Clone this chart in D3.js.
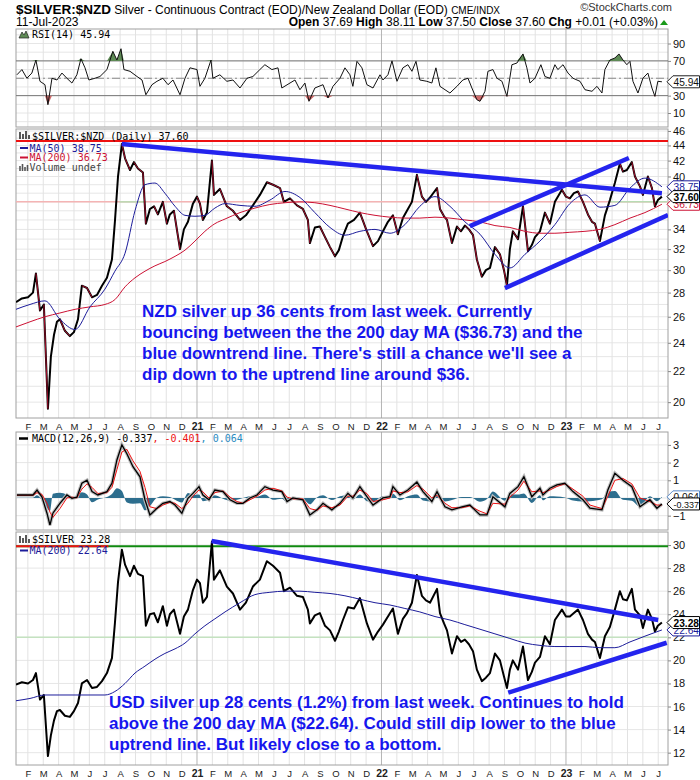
<!DOCTYPE html>
<html>
<head>
<meta charset="utf-8">
<script src="https://cdn.jsdelivr.net/npm/d3@7"></script>
<style>
  body { margin: 0; background: #fff; }
  text { font-family: "Liberation Sans", Arial, sans-serif; }
  .mono { font-family: "DejaVu Sans Mono", monospace; font-size: 10px; }
</style>
</head>
<body>
<svg id="chart" width="700" height="780"></svg>
<script>
// ---- data (dates as decimal years) ----
const priceDates = [
  2020.019, 2020.051, 2020.084, 2020.111, 2020.127, 2020.149, 2020.170, 2020.192, 2020.208, 2020.225,
  2020.241, 2020.257, 2020.284, 2020.311, 2020.333, 2020.355, 2020.376, 2020.404, 2020.431, 2020.458,
  2020.485, 2020.512, 2020.539, 2020.555, 2020.572, 2020.593, 2020.610, 2020.637, 2020.658, 2020.680,
  2020.707, 2020.723, 2020.745, 2020.767, 2020.788, 2020.815, 2020.837, 2020.853, 2020.875, 2020.908,
  2020.929, 2020.951, 2020.978, 2021.000, 2021.016, 2021.032, 2021.054, 2021.081, 2021.092, 2021.124,
  2021.162, 2021.195, 2021.233, 2021.265, 2021.303, 2021.341, 2021.379, 2021.412, 2021.450, 2021.471,
  2021.504, 2021.542, 2021.574, 2021.601, 2021.612, 2021.639, 2021.666, 2021.694, 2021.721, 2021.748,
  2021.769, 2021.791, 2021.818, 2021.851, 2021.883, 2021.921, 2021.954, 2021.981, 2022.008, 2022.035,
  2022.062, 2022.089, 2022.116, 2022.138, 2022.165, 2022.192, 2022.219, 2022.241, 2022.263, 2022.301,
  2022.317, 2022.339, 2022.355, 2022.382, 2022.409, 2022.431, 2022.452, 2022.474, 2022.496, 2022.517,
  2022.544, 2022.566, 2022.588, 2022.615, 2022.642, 2022.664, 2022.680, 2022.696, 2022.712, 2022.740,
  2022.767, 2022.794, 2022.815, 2022.832, 2022.859, 2022.886, 2022.913, 2022.940, 2022.978, 2023.000,
  2023.021, 2023.043, 2023.065, 2023.092, 2023.119, 2023.141, 2023.157, 2023.184, 2023.211, 2023.238,
  2023.265, 2023.292, 2023.309, 2023.330, 2023.357, 2023.374, 2023.401, 2023.417, 2023.444, 2023.466,
  2023.482, 2023.498, 2023.520
];
const nzdClose = [
  27.2, 27.5, 27.6, 28.0, 29.7, 26.5, 27.0, 19.6, 23.0, 24.6,
  25.6, 25.8, 24.9, 24.5, 24.8, 25.8, 28.6, 28.4, 27.6, 27.8,
  28.6, 29.3, 31.0, 34.8, 40.0, 44.2, 42.3, 40.8, 41.8, 41.0,
  40.5, 34.6, 36.2, 36.5, 35.6, 37.0, 34.6, 35.6, 36.0, 32.0,
  34.0, 34.8, 36.8, 37.6, 36.8, 35.0, 35.8, 42.0, 37.8, 38.5,
  36.5, 36.0, 35.0, 35.5, 36.6, 37.8, 39.3, 39.0, 38.6, 37.0,
  37.4, 36.6, 36.2, 35.0, 32.6, 34.2, 34.3, 33.2, 32.2, 31.3,
  31.9, 33.3, 34.6, 35.0, 35.8, 33.8, 32.3, 32.8, 33.8, 34.8,
  35.5, 33.5, 35.2, 36.0, 37.0, 40.2, 37.6, 37.0, 37.5, 38.6,
  36.2, 35.4, 35.0, 32.6, 34.3, 33.8, 34.4, 34.0, 33.4, 31.0,
  29.4, 30.0, 30.2, 32.2, 31.5, 30.0, 28.6, 32.0, 33.8, 33.0,
  36.5, 31.8, 32.4, 33.2, 33.8, 35.8, 34.6, 37.0, 38.4, 37.6,
  37.4, 38.0, 38.2, 37.0, 35.6, 34.8, 34.6, 32.8, 35.5, 37.2,
  39.2, 41.6, 40.6, 40.8, 41.8, 40.0, 38.8, 37.8, 40.0, 38.6,
  36.5, 37.2, 37.60
];
const usdClose = [
  17.9, 18.1, 18.0, 18.3, 18.9, 16.6, 17.0, 11.7, 13.5, 14.8,
  15.6, 15.7, 15.2, 15.1, 15.6, 16.3, 18.0, 18.3, 17.6, 17.7,
  18.2, 18.9, 20.2, 23.2, 26.8, 29.6, 28.3, 27.3, 28.2, 27.5,
  27.3, 23.0, 24.0, 24.1, 23.3, 24.7, 23.0, 24.0, 24.4, 22.3,
  23.8, 24.4, 26.1, 27.0, 26.7, 25.0, 25.5, 30.3, 27.0, 27.8,
  26.4, 25.8, 24.4, 25.0, 26.4, 27.0, 28.6, 28.2, 27.6, 26.0,
  26.3, 25.6, 25.5, 24.4, 23.2, 23.9, 24.1, 23.0, 22.6, 21.7,
  22.5, 23.5, 24.6, 24.5, 25.4, 23.2, 21.8, 22.5, 23.1, 23.8,
  24.5, 22.3, 23.6, 24.1, 25.0, 27.4, 25.6, 25.2, 25.0, 26.2,
  24.1, 23.2, 22.6, 20.6, 22.1, 21.6, 21.8, 21.4, 20.8, 19.2,
  18.2, 18.5, 18.9, 20.6, 20.0, 18.6, 17.6, 19.2, 20.0, 19.2,
  21.2, 18.3, 19.0, 19.8, 20.3, 22.1, 21.4, 23.5, 24.4, 23.8,
  23.8, 24.1, 24.4, 23.5, 22.3, 21.8, 21.6, 20.2, 22.1, 22.9,
  24.4, 26.0, 25.3, 25.2, 26.2, 24.4, 23.9, 22.8, 24.4, 23.6,
  22.5, 23.0, 23.28
];

const maDates = [
  2020.019, 2020.095, 2020.176, 2020.257, 2020.339, 2020.420, 2020.501, 2020.555, 2020.610, 2020.664,
  2020.718, 2020.772, 2020.826, 2020.881, 2020.935, 2020.989, 2021.043, 2021.097, 2021.152, 2021.233,
  2021.314, 2021.395, 2021.477, 2021.558, 2021.639, 2021.721, 2021.802, 2021.883, 2021.965, 2022.046,
  2022.127, 2022.208, 2022.290, 2022.371, 2022.452, 2022.534, 2022.615, 2022.696, 2022.778, 2022.859,
  2022.940, 2023.021, 2023.103, 2023.184, 2023.265, 2023.347, 2023.428, 2023.520
];
const nzdMA50 = [
  26.6, 27.0, 27.3, 25.8, 25.0, 26.8, 28.3, 29.9, 31.6, 36.0,
  39.0, 39.2, 38.0, 36.5, 35.5, 35.4, 35.5, 36.3, 36.8, 36.6,
  36.5, 37.2, 38.2, 37.5, 35.8, 34.2, 33.4, 33.8, 34.0, 33.6,
  34.5, 36.5, 37.6, 36.5, 34.8, 33.5, 31.5, 30.2, 31.5, 32.8,
  34.5, 36.8, 37.8, 36.4, 36.6, 38.6, 39.8, 38.75
];
const nzdMA200 = [
  25.2, 25.6, 26.0, 26.3, 26.6, 26.8, 27.0, 27.4, 28.5, 29.3,
  29.9, 30.4, 30.8, 31.3, 31.9, 32.8, 33.8, 34.6, 35.1, 35.8,
  36.3, 36.7, 36.9, 37.0, 36.9, 36.6, 36.2, 35.8, 35.5, 35.3,
  35.2, 35.2, 35.3, 35.2, 35.0, 34.8, 34.4, 34.2, 33.8, 33.6,
  33.6, 33.7, 33.8, 34.0, 34.5, 35.2, 35.8, 36.73
];
const usdMA200 = [
  16.5, 16.7, 17.0, 17.0, 17.0, 17.0, 17.0, 17.3, 18.0, 18.9,
  19.5, 20.1, 20.6, 21.0, 21.5, 22.3, 23.0, 23.6, 24.2, 25.0,
  25.7, 25.9, 26.0, 26.0, 25.9, 25.8, 25.6, 25.3, 25.0, 24.8,
  24.5, 24.2, 23.8, 23.5, 23.1, 22.7, 22.3, 21.9, 21.5, 21.3,
  21.2, 21.2, 21.2, 21.1, 21.1, 21.6, 22.1, 22.64
];

const rsiDates = [
  2020.024, 2020.051, 2020.078, 2020.105, 2020.127, 2020.149, 2020.176, 2020.192, 2020.214, 2020.241,
  2020.268, 2020.295, 2020.322, 2020.349, 2020.371, 2020.393, 2020.414, 2020.447, 2020.474, 2020.512,
  2020.544, 2020.566, 2020.588, 2020.604, 2020.637, 2020.675, 2020.702, 2020.723, 2020.756, 2020.783,
  2020.815, 2020.843, 2020.870, 2020.908, 2020.935, 2020.962, 2021.000, 2021.016, 2021.043, 2021.076,
  2021.086, 2021.124, 2021.162, 2021.195, 2021.233, 2021.271, 2021.303, 2021.341, 2021.368, 2021.406,
  2021.439, 2021.460, 2021.504, 2021.531, 2021.558, 2021.585, 2021.607, 2021.639, 2021.683, 2021.710,
  2021.737, 2021.775, 2021.802, 2021.829, 2021.845, 2021.867, 2021.894, 2021.921, 2021.954, 2021.992,
  2022.008, 2022.035, 2022.057, 2022.084, 2022.116, 2022.143, 2022.165, 2022.187, 2022.208, 2022.246,
  2022.273, 2022.295, 2022.317, 2022.371, 2022.409, 2022.441, 2022.469, 2022.490, 2022.517, 2022.534,
  2022.561, 2022.577, 2022.604, 2022.626, 2022.653, 2022.680, 2022.707, 2022.734, 2022.767, 2022.788,
  2022.805, 2022.832, 2022.864, 2022.886, 2022.913, 2022.940, 2022.956, 2022.984, 2023.011, 2023.038,
  2023.076, 2023.103, 2023.141, 2023.168, 2023.195, 2023.211, 2023.238, 2023.265, 2023.287, 2023.309,
  2023.330, 2023.347, 2023.363, 2023.390, 2023.417, 2023.444, 2023.466, 2023.482, 2023.498, 2023.520
];
const rsi14 = [
  54, 60, 50, 56, 71, 46.5, 42.6, 19.6, 50, 48,
  56, 50, 44.5, 54, 72.5, 62, 48, 50, 52, 60,
  81, 71, 84, 60, 58, 52, 48, 31, 42.6, 46.5,
  50, 42.6, 48, 31, 50, 62, 60, 40.7, 50, 71,
  50, 54, 46.5, 48, 38.8, 50, 52, 60, 65.6, 60,
  62, 38.8, 44.5, 48, 36.8, 44.5, 23.5, 38.8, 42.6, 27.3,
  40.7, 50, 62, 54, 40.7, 69.5, 62, 42.6, 38.8, 54,
  48, 54, 70, 46.5, 62, 65.6, 58, 69.5, 48, 46.5,
  44.5, 62, 40.7, 33, 40.7, 48, 50, 38.8, 25.3, 23.5,
  35, 58, 60, 50, 46.5, 29.2, 65.6, 67.5, 78, 62,
  44.5, 50, 65.6, 52, 50, 65.6, 60, 65.6, 56, 50,
  46.5, 36.8, 35, 40.7, 33, 60, 71, 73.3, 78, 71,
  65.6, 69.5, 46.5, 33, 50, 56, 38.8, 29.2, 46.5, 45.94
];

const macdDates = [
  2020.024, 2020.111, 2020.133, 2020.160, 2020.187, 2020.203, 2020.219, 2020.257, 2020.295, 2020.322,
  2020.349, 2020.376, 2020.404, 2020.431, 2020.463, 2020.512, 2020.539, 2020.566, 2020.593, 2020.620,
  2020.653, 2020.691, 2020.718, 2020.745, 2020.783, 2020.815, 2020.853, 2020.881, 2020.918, 2020.951,
  2020.978, 2021.011, 2021.032, 2021.065, 2021.097, 2021.141, 2021.179, 2021.217, 2021.249, 2021.287,
  2021.325, 2021.368, 2021.412, 2021.460, 2021.488, 2021.520, 2021.574, 2021.612, 2021.650, 2021.683,
  2021.731, 2021.775, 2021.818, 2021.845, 2021.883, 2021.921, 2021.954, 2022.008, 2022.046, 2022.062,
  2022.100, 2022.143, 2022.192, 2022.225, 2022.273, 2022.301, 2022.344, 2022.382, 2022.436, 2022.479,
  2022.534, 2022.572, 2022.604, 2022.669, 2022.696, 2022.740, 2022.772, 2022.815, 2022.859, 2022.875,
  2022.913, 2022.951, 2022.994, 2023.038, 2023.092, 2023.130, 2023.195, 2023.227, 2023.265, 2023.309,
  2023.357, 2023.401, 2023.455, 2023.493, 2023.520
];
const macdLine = [
  0.17, 0.17, 0.45, 0.05, -0.86, -1.53, -0.86, -0.3, 0.17, -0.02,
  0.05, 0.83, 1.0, 0.36, 0.17, 0.36, 0.83, 2.15, 3.0, 2.5,
  1.77, 1.2, -0.1, -0.96, -0.58, -0.3, -0.2, -0.4, -0.86, -0.02,
  0.26, 0.64, 0.17, -0.1, 0.45, 0.36, -0.1, -0.3, -0.3, 0,
  0.17, 0.64, 0.45, 0.36, -0.2, 0, -0.1, -0.96, -0.67, -0.3,
  -0.67, -0.3, 0.26, 0, 0.64, 0.07, -0.4, 0, 0.07, 0.64,
  0.17, 0.45, 0.9, 0.36, -0.2, 0.36, -0.5, -0.67, -0.5, -0.4,
  -0.96, -0.96, 0.07, -0.5, 0.26, 0.64, 1.2, 0.07, 0.55, 0.17,
  0.55, 0.74, 0.83, 0.36, -0.1, -0.58, -0.67, 0.45, 1.4, 1.0,
  0.64, -0.5, -0.1, -0.58, -0.337
];
const macdSignal = [
  0.15, 0.15, 0.3, 0.2, -0.3, -0.8, -1.1, -0.6, 0.0, 0.05,
  0.0, 0.5, 0.8, 0.6, 0.25, 0.3, 0.6, 1.6, 2.6, 2.75,
  2.1, 1.5, 0.6, -0.5, -0.6, -0.4, -0.25, -0.3, -0.6, -0.3,
  0.1, 0.45, 0.35, 0.0, 0.3, 0.4, 0.05, -0.2, -0.3, -0.1,
  0.1, 0.45, 0.55, 0.4, 0.05, -0.05, -0.05, -0.6, -0.7, -0.45,
  -0.55, -0.4, 0.1, 0.1, 0.45, 0.25, -0.2, -0.1, 0.0, 0.4,
  0.3, 0.35, 0.7, 0.5, 0.0, 0.15, -0.3, -0.55, -0.55, -0.45,
  -0.75, -0.9, -0.3, -0.35, 0.05, 0.45, 0.95, 0.35, 0.4, 0.3,
  0.45, 0.65, 0.8, 0.5, 0.1, -0.4, -0.6, 0.1, 1.0, 1.1,
  0.8, 0.0, -0.2, -0.4, -0.401
];
const macdHist = [
  0.02, 0.02, 0.15, -0.15, -0.56, -0.73, 0.24, 0.3, 0.17, -0.07,
  0.05, 0.33, 0.2, -0.24, -0.08, 0.06, 0.23, 0.55, 0.4, -0.25,
  -0.33, -0.3, -0.7, -0.46, 0.02, 0.1, 0.05, -0.1, -0.26, 0.28,
  0.16, 0.19, -0.18, -0.1, 0.15, -0.04, -0.15, -0.1, 0.0, 0.1,
  0.07, 0.19, -0.1, -0.04, -0.25, 0.05, -0.05, -0.36, 0.03, 0.15,
  -0.12, 0.1, 0.16, -0.1, 0.19, -0.18, -0.2, 0.1, 0.07, 0.24,
  -0.13, 0.1, 0.2, -0.14, -0.2, 0.21, -0.2, -0.12, 0.05, 0.05,
  -0.21, -0.06, 0.37, -0.15, 0.21, 0.19, 0.25, -0.28, 0.15, -0.13,
  0.1, 0.09, 0.03, -0.14, -0.2, -0.18, -0.07, 0.35, 0.4, -0.1,
  -0.16, -0.5, 0.1, -0.18, 0.064
];

// trend lines drawn on the chart: [date, value] end points
const nzdTrends = [
  [[2020.592, 44.2], [2023.520, 38.0]],
  [[2022.479, 34.35], [2023.341, 42.34]],
  [[2022.669, 28.39], [2023.553, 35.53]]
];
const usdTrends = [
  [[2021.079, 30.35], [2023.500, 23.5]],
  [[2022.687, 17.2], [2023.546, 21.53]]
];
const nzdResistance = 44.6;
const nzdLevel = 37.0;
const nzdLevelGreen = [[2020.58, 2020.72], [2023.24, 2023.55]];
const usdResistance = 29.9;
const usdResistanceRedUntil = 2020.52;
const usdLevel = 22.0;

const monthLetters = ["J", "F", "M", "A", "M", "J", "J", "A", "S", "O", "N", "D"];
const years = [2020, 2021, 2022, 2023];
const rsiTicks = [10, 30, 70, 90];
const nzdTicks = [20, 22, 24, 26, 28, 30, 32, 34, 36, 38, 40, 42, 44, 46];
const macdTicks = [-1, 1, 2, 3];
const usdTicks = [12, 14, 16, 18, 20, 22, 24, 26, 28, 30];

// last values shown in the tags on the right axis
const rsiLast = [45.94];
const nzdLast = [38.75, 37.60, 36.73];
const macdLast = [0.064, -0.337];
const usdLast = [23.28, 22.64];

const nzdNote = [
  "NZD silver up 36 cents from last week. Currently",
  "bouncing between the the 200 day MA ($36.73) and the",
  "blue downtrend line. There's still a chance we'll see a",
  "dip down to the uptrend line around $36."
];
const usdNote = [
  "USD silver up 28 cents (1.2%) from last week. Continues to hold",
  "above the 200 day MA ($22.64). Could still dip lower to the blue",
  "uptrend line. But likely close to a bottom."
];

// ---- layout ----
const L = 16, R = 668;
const svg = d3.select("#chart");
const x = d3.scaleLinear().domain([2020.019, 2023.553]).range([L, R]);

const rsiY = d3.scaleLinear().domain([-6.1, 106.7]).range([127, 29]);
const nzdY = d3.scaleLog().domain([19.05, 46.28]).range([418, 129]);
const macdY = d3.scaleLinear().domain([-1.81, 3.73]).range([530, 432]);
const usdY = d3.scaleLinear().domain([10.93, 31.13]).range([765, 532]);

const months = [];
years.forEach(yr => monthLetters.forEach((m, i) => {
  const t = yr + i / 12;
  if (t > x.domain()[0] && t < x.domain()[1]) {
    months.push({ t: t, label: i === 0 ? String(yr).slice(2) : m, isYear: i === 0 });
  }
}));

const series = (dates, vals) => dates.map((t, i) => [t, vals[i]]);
const lineOf = y => d3.line().x(d => x(d[0])).y(d => y(d[1]));

function panel(name, y, grid, ticks, lastVals) {
  const [bottom, top] = y.range();
  const g = svg.append("g");
  g.append("rect").attr("x", L).attr("y", top).attr("width", R - L).attr("height", bottom - top).attr("fill", "#fff");
  g.selectAll(".hg").data(grid).join("line").attr("class", "hg")
    .attr("x1", L).attr("x2", R).attr("y1", d => y(d)).attr("y2", d => y(d))
    .attr("stroke", "#e6e6e6");
  g.selectAll(".vg").data(months).join("line").attr("class", "vg")
    .attr("x1", d => x(d.t)).attr("x2", d => x(d.t)).attr("y1", top).attr("y2", bottom)
    .attr("stroke", d => d.isYear ? "#b4b4b4" : "#e2e2e2");
  g.append("rect").attr("x", L).attr("y", top).attr("width", R - L).attr("height", bottom - top)
    .attr("fill", "none").attr("stroke", "#a0a0a0");

  // tick labels that sit under a value tag are covered, so leave them out
  const shown = ticks.filter(t => lastVals.every(v => Math.abs(y(t) - y(v)) >= 7));
  const ax = svg.append("g").attr("transform", `translate(${R},0)`)
    .call(d3.axisRight(y).tickValues(shown).tickSize(3).tickPadding(2).tickFormat(d3.format("d")));
  ax.select(".domain").remove();
  ax.selectAll("line").attr("stroke", "#888");
  ax.selectAll("text").attr("font-family", "Liberation Sans, Arial, sans-serif").attr("font-size", 11).attr("fill", "#111");

  svg.append("clipPath").attr("id", "clip-" + name)
    .append("rect").attr("x", L).attr("y", top).attr("width", R - L).attr("height", bottom - top);
  return svg.append("g").attr("clip-path", `url(#clip-${name})`);
}

function monthAxis(yPos) {
  const ax = svg.append("g").attr("transform", `translate(0,${yPos})`)
    .call(d3.axisBottom(x).tickValues(months.map(d => d.t)).tickSize(0).tickPadding(5)
      .tickFormat((d, i) => months[i].label));
  ax.select(".domain").remove();
  ax.selectAll("text")
    .attr("font-family", "DejaVu Sans, Verdana, sans-serif")
    .attr("font-size", (d, i) => months[i].isYear ? 10.5 : 9.5)
    .attr("font-weight", (d, i) => months[i].isYear ? "bold" : "normal")
    .attr("fill", "#222");
}

// price tag on the right axis, pointing at the last value
function tag(yPix, label, stroke, color, bold) {
  const g = svg.append("g");
  g.append("path")
    .attr("d", `M${R - 1},${yPix} L${R + 5},${yPix - 6} L699.5,${yPix - 6} L699.5,${yPix + 6} L${R + 5},${yPix + 6} Z`)
    .attr("fill", "#fff").attr("stroke", stroke).attr("stroke-width", 1);
  g.append("text").attr("x", R + 5.5).attr("y", yPix + 4).attr("font-size", label.length > 5 ? 9.5 : 11)
    .attr("textLength", 25.5).attr("lengthAdjust", "spacingAndGlyphs")
    .attr("font-weight", bold ? "bold" : "normal").attr("fill", color).text(label);
}

// ---- header ----
const head = svg.append("text").attr("x", L).attr("y", 13.5).attr("font-size", 12);
head.append("tspan").attr("font-weight", "bold").attr("font-size", 13.5).text("$SILVER:$NZD");
head.append("tspan").text(" Silver - Continuous Contract (EOD)/New Zealand Dollar (EOD) ");
head.append("tspan").attr("font-size", 10).text("CME/INDX");
svg.append("text").attr("x", R + 4).attr("y", 11).attr("text-anchor", "end").attr("font-size", 11)
  .attr("fill", "#333").text("\u00A9StockCharts.com");
svg.append("text").attr("x", L).attr("y", 25.5).attr("font-size", 12).text("11-Jul-2023");
const ohlc = svg.append("text").attr("x", R - 10).attr("y", 25.5).attr("text-anchor", "end").attr("font-size", 12);
[["Open", " 37.69  "], ["High", " 38.11  "], ["Low", " 37.50  "], ["Close", " 37.60  "], ["Chg", " +0.01 (+0.03%)"]]
  .forEach(([k, v]) => {
    ohlc.append("tspan").attr("font-weight", "bold").text(k);
    ohlc.append("tspan").text(v);
  });
svg.append("path").attr("d", `M${R - 8},25 L${R - 4},20 L${R},25 Z`).attr("fill", "#1a9a1a");

// ---- RSI panel ----
const rsiG = panel("rsi", rsiY, d3.range(0, 101, 10), rsiTicks, rsiLast);
const rsiData = series(rsiDates, rsi14);
[70, 30].forEach(v => rsiG.append("line").attr("x1", L).attr("x2", R)
  .attr("y1", rsiY(v)).attr("y2", rsiY(v)).attr("stroke", "#777"));
rsiG.append("line").attr("x1", L).attr("x2", R).attr("y1", rsiY(50)).attr("y2", rsiY(50))
  .attr("stroke", "#888").attr("stroke-dasharray", "8,3,2,3");
rsiG.append("path").datum(rsiData)
  .attr("d", d3.area().x(d => x(d[0])).y0(rsiY(70)).y1(d => rsiY(Math.max(d[1], 70))))
  .attr("fill", "#5e8a55");
rsiG.append("path").datum(rsiData)
  .attr("d", d3.area().x(d => x(d[0])).y0(rsiY(30)).y1(d => rsiY(Math.min(d[1], 30))))
  .attr("fill", "#cf6a6a");
rsiG.append("path").datum(rsiData).attr("d", lineOf(rsiY))
  .attr("fill", "none").attr("stroke", "#111").attr("stroke-width", 1);
svg.append("path").attr("d", "M19,38 L22,32 L24,35 L26,31 L29,38 Z").attr("fill", "#5e8a55").attr("stroke", "#222").attr("stroke-width", 0.7);
svg.append("text").attr("class", "mono").attr("x", 32).attr("y", 38).text("RSI(14) 45.94");

// ---- NZD price panel ----
const mainG = panel("main", nzdY, d3.range(20, 47, 1), nzdTicks, nzdLast);
mainG.append("line").attr("x1", L).attr("x2", R).attr("y1", nzdY(nzdLevel)).attr("y2", nzdY(nzdLevel))
  .attr("stroke", "#f4b4b4").attr("stroke-width", 1.5);
mainG.selectAll(".lg").data(nzdLevelGreen).join("line").attr("class", "lg")
  .attr("x1", d => x(d[0])).attr("x2", d => x(d[1]))
  .attr("y1", nzdY(nzdLevel)).attr("y2", nzdY(nzdLevel))
  .attr("stroke", "#b9dcb4").attr("stroke-width", 1.5);
mainG.append("line").attr("x1", L).attr("x2", R).attr("y1", nzdY(nzdResistance)).attr("y2", nzdY(nzdResistance))
  .attr("stroke", "#ee1111").attr("stroke-width", 2);

const nzd = series(priceDates, nzdClose);
mainG.append("path").datum(nzd).attr("d", lineOf(nzdY))
  .attr("fill", "none").attr("stroke", "#000").attr("stroke-width", 2).attr("stroke-linejoin", "round");
mainG.selectAll(".dn").data(d3.pairs(nzd).filter(([a, b]) => b[1] < a[1])).join("line").attr("class", "dn")
  .attr("x1", d => x(d[0][0])).attr("y1", d => nzdY(d[0][1]))
  .attr("x2", d => x(d[1][0])).attr("y2", d => nzdY(d[1][1]))
  .attr("stroke", "#cc1035").attr("stroke-width", 0.8);
mainG.append("path").datum(series(maDates, nzdMA200)).attr("d", lineOf(nzdY).curve(d3.curveMonotoneX))
  .attr("fill", "none").attr("stroke", "#cc1133").attr("stroke-width", 1);
mainG.append("path").datum(series(maDates, nzdMA50)).attr("d", lineOf(nzdY).curve(d3.curveMonotoneX))
  .attr("fill", "none").attr("stroke", "#1c1c9a").attr("stroke-width", 1);
mainG.selectAll(".tr").data(nzdTrends).join("line").attr("class", "tr")
  .attr("x1", d => x(d[0][0])).attr("y1", d => nzdY(d[0][1]))
  .attr("x2", d => x(d[1][0])).attr("y2", d => nzdY(d[1][1]))
  .attr("stroke", "#2424ee").attr("stroke-width", 4.5);

svg.append("text").attr("class", "mono").attr("x", 32).attr("y", 139.5).text("$SILVER:$NZD (Daily) 37.60");
svg.append("line").attr("x1", 20).attr("x2", 28).attr("y1", 148).attr("y2", 148).attr("stroke", "#1c1c9a").attr("stroke-width", 2);
svg.append("text").attr("class", "mono").attr("x", 29.5).attr("y", 151.5).attr("fill", "#1c1c9a").text("MA(50) 38.75");
svg.append("line").attr("x1", 20).attr("x2", 28).attr("y1", 157.5).attr("y2", 157.5).attr("stroke", "#cc1133").attr("stroke-width", 2);
svg.append("text").attr("class", "mono").attr("x", 29.5).attr("y", 161).attr("fill", "#cc1133").text("MA(200) 36.73");
svg.append("path").attr("d", "M20,171 V166 M22.5,171 V164 M25,171 V167 M27.5,171 V165").attr("stroke", "#555").attr("stroke-width", 1.6);
svg.append("text").attr("class", "mono").attr("x", 29.5).attr("y", 171).attr("fill", "#444").text("Volume undef");
svg.append("path").attr("d", "M20,139 V132 M23,139 V134 M26,139 V131 M29,139 V135").attr("stroke", "#222").attr("stroke-width", 1.5);

const noteA = svg.append("text").attr("font-size", 17).attr("font-weight", "bold").attr("fill", "#1616ee");
nzdNote.forEach((s, i) => noteA.append("tspan").attr("x", 142).attr("y", 316.5 + i * 21).text(s));

monthAxis(418);

// ---- MACD panel ----
const macdG = panel("macd", macdY, d3.range(-1, 4, 1), macdTicks, macdLast);
macdG.append("path").datum(series(macdDates, macdHist))
  .attr("d", d3.area().curve(d3.curveMonotoneX).x(d => x(d[0])).y0(macdY(0)).y1(d => macdY(d[1])))
  .attr("fill", "#2d6e8e");
const macdPts = series(macdDates, macdLine);
macdG.append("path").datum(macdPts).attr("d", lineOf(macdY))
  .attr("fill", "none").attr("stroke", "#bdbdbd").attr("stroke-width", 3.5);
macdG.append("path").datum(series(macdDates, macdSignal)).attr("d", lineOf(macdY))
  .attr("fill", "none").attr("stroke", "#ee1111").attr("stroke-width", 1);
macdG.append("path").datum(macdPts).attr("d", lineOf(macdY))
  .attr("fill", "none").attr("stroke", "#000").attr("stroke-width", 1.3);
svg.append("line").attr("x1", 19).attr("x2", 28).attr("y1", 438.5).attr("y2", 438.5).attr("stroke", "#000").attr("stroke-width", 2.5);
const ml = svg.append("text").attr("class", "mono").attr("x", 32).attr("y", 442);
ml.append("tspan").text("MACD(12,26,9) -0.337");
ml.append("tspan").attr("fill", "#ee1111").text(", -0.401");
ml.append("tspan").attr("fill", "#2a8ac0").text(", 0.064");

// ---- USD price panel ----
const usdG = panel("usd", usdY, d3.range(12, 31, 2), usdTicks, usdLast);
usdG.append("line").attr("x1", L).attr("x2", R).attr("y1", usdY(usdLevel)).attr("y2", usdY(usdLevel))
  .attr("stroke", "#c4e2c0").attr("stroke-width", 1.5);
usdG.append("line").attr("x1", L).attr("x2", R).attr("y1", usdY(usdResistance)).attr("y2", usdY(usdResistance))
  .attr("stroke", "#108a10").attr("stroke-width", 2);
usdG.append("line").attr("x1", L).attr("x2", x(usdResistanceRedUntil)).attr("y1", usdY(usdResistance)).attr("y2", usdY(usdResistance))
  .attr("stroke", "#ee1111").attr("stroke-width", 2);
usdG.append("path").datum(series(priceDates, usdClose)).attr("d", lineOf(usdY))
  .attr("fill", "none").attr("stroke", "#000").attr("stroke-width", 2).attr("stroke-linejoin", "round");
usdG.append("path").datum(series(maDates, usdMA200)).attr("d", lineOf(usdY).curve(d3.curveMonotoneX))
  .attr("fill", "none").attr("stroke", "#1c1c9a").attr("stroke-width", 1);
usdG.selectAll(".tr").data(usdTrends).join("line").attr("class", "tr")
  .attr("x1", d => x(d[0][0])).attr("y1", d => usdY(d[0][1]))
  .attr("x2", d => x(d[1][0])).attr("y2", d => usdY(d[1][1]))
  .attr("stroke", "#2424ee").attr("stroke-width", 4.5);
svg.append("path").attr("d", "M20,543 V536 M23,543 V538 M26,543 V535 M29,543 V539").attr("stroke", "#222").attr("stroke-width", 1.5);
svg.append("text").attr("class", "mono").attr("x", 32).attr("y", 542.5).text("$SILVER 23.28");
svg.append("line").attr("x1", 20).attr("x2", 28).attr("y1", 550.5).attr("y2", 550.5).attr("stroke", "#1c1c9a").attr("stroke-width", 2);
svg.append("text").attr("class", "mono").attr("x", 29.5).attr("y", 554).attr("fill", "#1c1c9a").text("MA(200) 22.64");

const noteB = svg.append("text").attr("font-size", 17).attr("font-weight", "bold").attr("fill", "#1616ee");
usdNote.forEach((s, i) => noteB.append("tspan").attr("x", 109).attr("y", 708 + i * 21).text(s));

monthAxis(765);

// ---- value tags on the right axis ----
tag(rsiY(45.94), "45.94", "#222", "#111", false);
tag(nzdY(36.73), "36.73", "#cc1133", "#cc1133", false);
tag(nzdY(38.75), "38.75", "#1c1c9a", "#1c1c9a", false);
tag(nzdY(37.60), "37.60", "#000", "#000", true);
tag(macdY(0.064), "0.064", "#5a8ac8", "#111", false);
tag(macdY(-0.337), "-0.337", "#000", "#111", false);
tag(usdY(22.64), "22.64", "#1c1c9a", "#1c1c9a", false);
tag(usdY(23.28), "23.28", "#000", "#000", true);
</script>
</body>
</html>
